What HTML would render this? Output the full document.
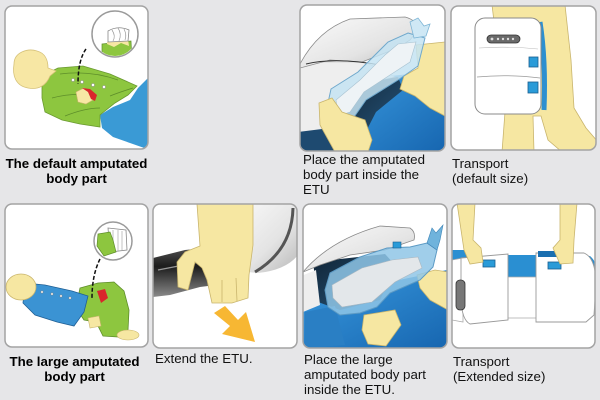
<!DOCTYPE html>
<html><head><meta charset="utf-8">
<style>
html,body{margin:0;padding:0;}
body{width:600px;height:400px;background:#e6e6e8;position:relative;overflow:hidden;font-family:"Liberation Sans",Arial,sans-serif;}
svg{position:absolute;left:0;top:0;}
.t{position:absolute;font-size:13.3px;line-height:15px;color:#111;white-space:nowrap;}
.b{font-weight:bold;text-align:center;color:#000;}
</style></head><body>
<svg width="600" height="400" viewBox="0 0 600 400" xmlns="http://www.w3.org/2000/svg">
<defs>
<clipPath id="c1"><rect x="5" y="6" width="143" height="143" rx="7"/></clipPath>
<clipPath id="c2"><rect x="300" y="5" width="145" height="146" rx="7"/></clipPath>
<clipPath id="c3"><rect x="451" y="6" width="145" height="144" rx="7"/></clipPath>
<clipPath id="c4"><rect x="5" y="204" width="143" height="143" rx="7"/></clipPath>
<clipPath id="c5"><rect x="153" y="204" width="144" height="144" rx="7"/></clipPath>
<clipPath id="c6"><rect x="303" y="204" width="144" height="144" rx="7"/></clipPath>
<clipPath id="c7"><rect x="452" y="204" width="143" height="144" rx="7"/></clipPath>
<clipPath id="m1"><circle cx="115" cy="34" r="22"/></clipPath>
<clipPath id="m4"><circle cx="113" cy="241" r="18"/></clipPath>
<linearGradient id="blue" x1="0" y1="0" x2="1" y2="1">
<stop offset="0" stop-color="#3a9be0"/><stop offset="1" stop-color="#1766b0"/></linearGradient>
<linearGradient id="silver" x1="0" y1="0" x2="1" y2="1">
<stop offset="0" stop-color="#fbfbfb"/><stop offset="0.6" stop-color="#e4e4e4"/><stop offset="1" stop-color="#b8b8b8"/></linearGradient>
<linearGradient id="tube" x1="0" y1="0" x2="0" y2="1">
<stop offset="0" stop-color="#555"/><stop offset="0.4" stop-color="#1c1c1c"/><stop offset="1" stop-color="#8a8a8a"/></linearGradient>
<linearGradient id="navy" x1="0" y1="0" x2="1" y2="1">
<stop offset="0" stop-color="#0f2335"/><stop offset="1" stop-color="#2a5a80"/></linearGradient>
</defs>

<!-- Panel 1 -->
<g clip-path="url(#c1)">
<rect x="5" y="6" width="143" height="143" fill="#fff"/>
<path d="M150,76 L138,88 L130,100 L113,107 L100,115 L102,128 L113,137 L130,143 L150,150 Z" fill="#3a9ad5"/>
<path d="M42,78 L50,72 L58,68 L83,66 L110,74 L137,86 L128,95 L115,103 L100,115 L100,127 L80,124 L62,120 L45,112 L42,98 Z" fill="#8dc63f" stroke="#6a9a30" stroke-width="0.8"/>
<path d="M60,74 Q90,70 118,80 M52,98 Q75,92 95,96 M65,116 Q85,108 100,108 M110,96 Q120,92 133,88" fill="none" stroke="#5e8e2a" stroke-width="0.8"/>
<path d="M14,64 C14,52 28,48 37,51 C45,53 48,60 48,68 L56,71 L50,76 C46,86 38,90 28,88 C16,86 12,76 14,64 Z" fill="#f7e7a4" stroke="#d6c27a" stroke-width="0.8"/>
<path d="M76,92 L84,88 L91,92 L93,100 L86,104 L78,102 Z" fill="#f7e7a4" stroke="#c9b56d" stroke-width="0.6"/>
<path d="M82,88 L90,89 L97,95 L95,101 L91,99 L88,92 Z" fill="#d9262c"/>
<g fill="#fff" stroke="#999" stroke-width="0.6"><circle cx="73" cy="80" r="1.5"/><circle cx="82" cy="82" r="1.5"/><circle cx="93" cy="85" r="1.5"/><circle cx="104" cy="87" r="1.5"/></g>
<path d="M86,49 Q78,60 78,84" fill="none" stroke="#111" stroke-width="1.5" stroke-dasharray="4 2"/>
<circle cx="115" cy="34" r="23" fill="#fff" stroke="#9a9a9a" stroke-width="1.5"/>
<g clip-path="url(#m1)">
<path d="M102,44 L131,41 L132,62 L102,62 Z" fill="#8dc63f" stroke="#5e8e2a" stroke-width="0.7"/>
<path d="M107,42 L128,39 L129,46 L121,43 L114,47 L107,44 Z" fill="#f7e7a4"/>
<path d="M108,31 Q118,25 129,30 L128,41 L108,42 Z" fill="#fff" stroke="#888" stroke-width="0.8"/>
<path d="M112,30 Q116,36 113,41 M118,28 Q122,34 119,41 M124,29 Q127,35 125,40" fill="none" stroke="#999" stroke-width="0.7"/>
</g>
</g>
<rect x="5" y="6" width="143" height="143" rx="7" fill="none" stroke="#a3a3a3" stroke-width="1.5"/>

<!-- Panel 2 -->
<g clip-path="url(#c2)">
<rect x="300" y="5" width="145" height="146" fill="#fff"/>
<path d="M355,80 L445,70 L445,151 L340,151 Z" fill="url(#blue)"/>
<path d="M358,80 L398,77 L403,90 L376,112 L356,151 L330,151 Z" fill="url(#navy)"/>
<path d="M298,62 L365,62 L395,77 L360,84 L336,114 L326,132 L298,136 Z" fill="#eeeeee" stroke="#bbb" stroke-width="0.6"/>
<path d="M298,132 L330,128 L345,151 L298,151 Z" fill="#1e4a70"/>
<path d="M300,64 Q318,30 350,19 L405,17 Q417,20 418,30 L410,40 L398,48 L362,62 L330,60 L300,68 Z" fill="url(#silver)" stroke="#8a8a8a" stroke-width="0.8"/>
<path d="M306,64 Q340,56 395,68" fill="none" stroke="#333" stroke-width="1"/>
<path d="M416,45 L445,42 L445,116 L430,108 L415,96 L400,89 L404,76 L418,68 Z" fill="#f6e7a2" stroke="#c9b56d" stroke-width="0.8"/>
<path d="M408,33 L425,38 L418,66 L398,80 L366,100 L352,120 L335,125 L326,112 L331,89 L358,72 L388,42 Z" fill="#c4e3f2" fill-opacity="0.85" stroke="#6fa8cc" stroke-width="1"/>
<path d="M398,44 L416,42 L410,62 L390,75 L364,92 L350,112 L338,116 L336,100 L360,80 L385,55 Z" fill="#eef3f6" stroke="#a9c3d2" stroke-width="0.6"/>
<path d="M410,22 L418,18 L424,26 L430,24 L426,36 L414,38 Z" fill="#cfe8f5" stroke="#7fb6d6" stroke-width="0.8"/>
<path d="M319,103 L332,98 L342,112 L365,120 L372,140 L368,152 L335,152 L320,125 Z" fill="#f6e7a2" stroke="#c9b56d" stroke-width="0.8"/>
</g>
<rect x="300" y="5" width="145" height="146" rx="7" fill="none" stroke="#a3a3a3" stroke-width="1.5"/>

<!-- Panel 3 -->
<g clip-path="url(#c3)">
<rect x="451" y="6" width="145" height="144" fill="#fff"/>
<path d="M492,5 L565,5 L571,60 L574,108 L586,128 L598,142 L598,152 L562,152 L548,140 L541,116 L533,116 L534,152 L502,152 L505,112 Z" fill="#f6e7a2" stroke="#c9b56d" stroke-width="0.8"/>
<path d="M540,22 Q546,60 544,110" fill="none" stroke="#2d8fd0" stroke-width="5"/>
<rect x="475" y="18" width="66" height="96" rx="10" fill="#fff" stroke="#8a8a8a" stroke-width="1"/>
<path d="M477,77 Q508,74 540,78" fill="none" stroke="#999" stroke-width="0.8"/>
<path d="M479,48 Q508,46 538,49" fill="none" stroke="#bbb" stroke-width="0.6"/>
<rect x="487" y="35" width="33" height="8" rx="4" fill="#6a6a6a" stroke="#333" stroke-width="0.8"/>
<g fill="#ddd"><circle cx="492" cy="39" r="1.4"/><circle cx="498" cy="39" r="1.2"/><circle cx="503" cy="39" r="1.2"/><circle cx="508" cy="39" r="1.2"/><circle cx="513" cy="39" r="1.2"/></g>
<rect x="529" y="57" width="9" height="10" fill="#2a9bd8" stroke="#1a5f90" stroke-width="0.8"/>
<rect x="528" y="82" width="10" height="11" fill="#2a9bd8" stroke="#1a5f90" stroke-width="0.8"/>
</g>
<rect x="451" y="6" width="145" height="144" rx="7" fill="none" stroke="#a3a3a3" stroke-width="1.5"/>

<!-- Panel 4 -->
<g clip-path="url(#c4)">
<rect x="5" y="204" width="143" height="143" fill="#fff"/>
<path d="M80,288 L98,283 L114,282 L124,291 L129,310 L128,330 L118,337 L103,336 L96,322 L84,320 L76,308 Z" fill="#8dc63f" stroke="#5e8e2a" stroke-width="0.8"/>
<path d="M25,283 L45,285 L72,291 L88,296 L84,312 L74,326 L57,322 L35,315 L23,303 Z" fill="#3b93d3" stroke="#1f5f95" stroke-width="0.8"/>
<g fill="#fff" stroke="#777" stroke-width="0.5"><circle cx="42" cy="292" r="1.2"/><circle cx="52" cy="294" r="1.2"/><circle cx="61" cy="296" r="1.2"/><circle cx="70" cy="298" r="1.2"/></g>
<ellipse cx="21" cy="287" rx="15" ry="13" fill="#f6e7a2" stroke="#c9b56d" stroke-width="0.8"/>
<path d="M97,291 L105,289 L108,298 L101,303 Z" fill="#d9262c"/>
<path d="M88,318 L99,316 L101,326 L90,328 Z" fill="#f6e7a2" stroke="#c9b56d" stroke-width="0.6"/>
<ellipse cx="128" cy="335" rx="11" ry="5" fill="#f6e7a2" stroke="#c9b56d" stroke-width="0.6"/>
<path d="M100,259 Q92,275 92,298" fill="none" stroke="#111" stroke-width="1.5" stroke-dasharray="4 2"/>
<circle cx="113" cy="241" r="19" fill="#fff" stroke="#9a9a9a" stroke-width="1.5"/>
<g clip-path="url(#m4)">
<path d="M108,228 L126,230 L127,250 L110,252 Z" fill="#fff" stroke="#888" stroke-width="0.8"/>
<path d="M113,230 L113,250 M118,230 L118,251 M122,231 L122,250" stroke="#aaa" stroke-width="0.7"/>
<path d="M98,234 L110,232 L113,240 L116,252 L104,256 L97,246 Z" fill="#8dc63f" stroke="#5e8e2a" stroke-width="0.7"/>
</g>
</g>
<rect x="5" y="204" width="143" height="143" rx="7" fill="none" stroke="#a3a3a3" stroke-width="1.5"/>

<!-- Panel 5 -->
<g clip-path="url(#c5)">
<rect x="153" y="204" width="144" height="144" fill="#fff"/>
<path d="M228,204 L298,204 L298,255 Q286,270 258,273 L248,272 Z" fill="url(#silver)"/>
<path d="M293,208 Q292,250 255,272" fill="none" stroke="#555" stroke-width="3"/>
<path d="M153,258 L185,250 L225,246 L246,258 L240,282 L200,287 L170,295 L153,297 Z" fill="url(#tube)"/>
<path d="M158,270 L230,256" stroke="#999" stroke-width="1.2"/>
<path d="M197,204 L253,204 L253,245 L249,275 L248,298 L232,303 L212,303 L207,280 L202,268 L195,262 L188,290 L178,287 L177,262 L185,252 L200,246 Z" fill="#f6e7a2" stroke="#c9b56d" stroke-width="0.8"/>
<path d="M222,280 L222,302 M236,278 L237,301" stroke="#c9b56d" stroke-width="0.8"/>
<path d="M214,313 L225,306 L238,320 L246,312 L255,342 L222,334 L230,326 Z" fill="#f7b733"/>
</g>
<rect x="153" y="204" width="144" height="144" rx="7" fill="none" stroke="#a3a3a3" stroke-width="1.5"/>

<!-- Panel 6 -->
<g clip-path="url(#c6)">
<rect x="303" y="204" width="144" height="144" fill="#fff"/>
<path d="M303,300 L447,270 L447,348 L303,348 Z" fill="url(#blue)"/>
<path d="M313,262 L385,254 L396,266 L380,300 L340,310 L318,302 Z" fill="url(#navy)"/>
<path d="M301,276 L316,270 L320,305 L303,312 Z" fill="#eeeeee"/>
<path d="M305,312 L335,306 L345,345 L305,348 Z" fill="#2a7fc4"/>
<path d="M303,272 Q330,240 380,226 L410,228 Q416,232 414,240 L385,250 L350,255 L320,265 Z" fill="url(#silver)" stroke="#888" stroke-width="0.8"/>
<path d="M417,275 L435,270 L448,272 L448,310 L430,300 L420,288 Z" fill="#f6e7a2" stroke="#c9b56d" stroke-width="0.8"/>
<path d="M330,273 L360,257 L387,248 L410,247 L427,243 L437,250 L433,267 L420,280 L390,293 L377,307 L360,313 L340,315 L328,307 L325,290 Z" fill="#8fc6e6" fill-opacity="0.85" stroke="#5c9ac4" stroke-width="1"/>
<path d="M332,285 L362,268 L392,260 L418,257 L422,268 L395,282 L372,302 L342,307 L333,298 Z" fill="#e3e7ea" stroke="#aab8c2" stroke-width="0.6"/>
<path d="M427,243 L432,228 L436,233 L443,225 L440,240 L437,250 Z" fill="#6fb3dc" stroke="#3f86b8" stroke-width="0.6"/>
<rect x="393" y="242" width="8" height="6" fill="#2a9bd8" stroke="#1a5f90" stroke-width="0.6"/>
<path d="M364,315 L395,310 L401,325 L386,346 L368,344 L362,330 Z" fill="#f6e7a2" stroke="#c9b56d" stroke-width="0.8"/>
</g>
<rect x="303" y="204" width="144" height="144" rx="7" fill="none" stroke="#a3a3a3" stroke-width="1.5"/>

<!-- Panel 7 -->
<g clip-path="url(#c7)">
<rect x="452" y="204" width="143" height="144" fill="#fff"/>
<path d="M450,250 L472,250 L472,262 L450,262 Z" fill="#2a8fd2"/>
<path d="M573,255 L590,256 Q597,262 597,272 L573,272 Z" fill="#2a8fd2"/>
<path d="M506,255 L538,255 L538,277 L506,277 Z" fill="#2a8fd2"/>
<path d="M506,277 L538,277 L538,318 L506,318 Z" fill="#fff" stroke="#aaa" stroke-width="0.8"/>
<path d="M463,258 L452,260 L452,320 L463,322 Z" fill="#fff" stroke="#aaa" stroke-width="0.8"/>
<path d="M461,258 L508,254 L508,320 L470,324 Q462,320 461,300 Z" fill="#fff" stroke="#999" stroke-width="0.9"/>
<path d="M536,253 L584,253 Q596,258 596,285 L594,315 L586,322 L536,322 Z" fill="#fff" stroke="#999" stroke-width="0.9"/>
<path d="M538,251 L558,251 L560,257 L538,257 Z" fill="#1a6fb0"/>
<rect x="456" y="280" width="9" height="30" rx="4" fill="#777" stroke="#333" stroke-width="0.8"/>
<rect x="483" y="260" width="12" height="7" fill="#2a9bd8" stroke="#1a5f90" stroke-width="0.8"/>
<rect x="548" y="262" width="13" height="7" fill="#2a9bd8" stroke="#1a5f90" stroke-width="0.8"/>
<path d="M457,203 L475,203 L473,240 L481,248 L483,262 L470,264 L464,250 Z" fill="#f6e7a2" stroke="#c9b56d" stroke-width="0.8"/>
<path d="M560,203 L577,203 L574,240 L573,263 L560,264 L553,248 L560,240 Z" fill="#f6e7a2" stroke="#c9b56d" stroke-width="0.8"/>
</g>
<rect x="452" y="204" width="143" height="144" rx="7" fill="none" stroke="#a3a3a3" stroke-width="1.5"/>
</svg>

<div class="t b" style="left:5px;width:143px;top:156px;">The default amputated<br>body part</div>
<div class="t" style="left:303px;top:152px;">Place the amputated<br>body part inside the<br>ETU</div>
<div class="t" style="left:452px;top:156px;">Transport<br>(default size)</div>
<div class="t b" style="left:3px;width:143px;top:354px;">The large amputated<br>body part</div>
<div class="t" style="left:155px;top:351px;">Extend the ETU.</div>
<div class="t" style="left:304px;top:352px;">Place the large<br>amputated body part<br>inside the ETU.</div>
<div class="t" style="left:453px;top:354px;">Transport<br>(Extended size)</div>
</body></html>
